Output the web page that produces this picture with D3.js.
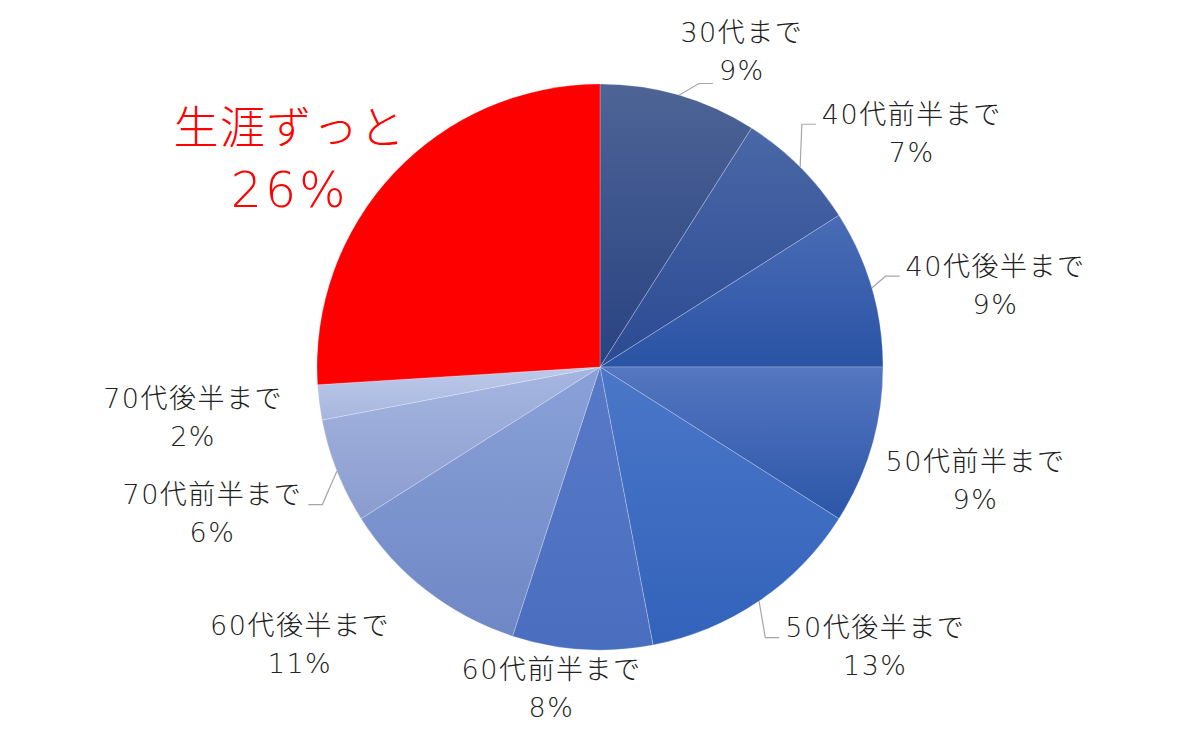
<!DOCTYPE html>
<html><head><meta charset="utf-8">
<script src="https://cdn.jsdelivr.net/npm/d3@7"></script>
<style>html,body{margin:0;padding:0;background:#fff;}</style>
</head><body>
<svg id="chart" width="1200" height="734"></svg>
<script>
// ---- data ----
const categories = ["30代まで","40代前半まで","40代後半まで","50代前半まで","50代後半まで","60代前半まで","60代後半まで","70代前半まで","70代後半まで","生涯ずっと"];
const values = [9,7,9,9,13,8,11,6,2,26];
const valueLabels = ["9%","7%","9%","9%","13%","8%","11%","6%","2%","26%"];

// ---- styles / layout ----
const sliceTop    = ["#4e6496","#4a67a6","#4a6cb5","#5576c0","#4b77c8","#5879c7","#8aa1d8","#a6b6e1","#bdc9ea","#ff0000"];
const sliceBottom = ["#284382","#2b4a93","#2a53a5","#2b56a8","#3262ba","#4a6ebf","#6f87c5","#8a9ccf","#a8b6de","#ff0000"];
const labelNudge = [[33,59],[36,42],[21,27],[1,5],[56,-43],[-24,-68],[-61,-31],[-25,3],[-20,2],[-26,59]];
const leaderSpec = [{i:0,line:1},{i:1,line:0},{i:2,line:0},{i:4,line:0},{i:7,line:0}];

const cx = 600, cy = 367, R = 283;
const svg = d3.select("#chart");
const defs = svg.append("defs");
sliceTop.forEach((c,i)=>{
  const g = defs.append("linearGradient").attr("id","g"+i).attr("x1",0).attr("y1",0).attr("x2",0).attr("y2",1);
  g.append("stop").attr("offset","0%").attr("stop-color",c);
  g.append("stop").attr("offset","100%").attr("stop-color",sliceBottom[i]);
});

const pie = d3.pie().sort(null).value(d=>d)(values);
const arc = d3.arc().innerRadius(0).outerRadius(R);
const edge = d3.arc().innerRadius(R).outerRadius(R);
const lab = d3.arc().innerRadius(390).outerRadius(390);

const root = svg.append("g").attr("transform",`translate(${cx},${cy})`);
root.selectAll("path.s").data(pie).join("path").attr("class","s")
  .attr("d",arc).attr("fill",(d,i)=>`url(#g${i})`)
  .attr("stroke","rgba(255,255,255,0.3)").attr("stroke-width",0.8);

const lineGap = 38;
const labels = [];
pie.forEach((d,i)=>{
  const c = lab.centroid(d);
  const x = c[0]+labelNudge[i][0], y = c[1]+labelNudge[i][1];
  const big = i===9;
  const g = root.append("g").attr("class","lbl");
  const gap = big?62:lineGap;
  const t1 = g.append("text").attr("x",x).attr("y",y-gap/2).text(categories[i])
    .attr("font-size",big?45:27).attr("letter-spacing","1.5px");
  const t2 = g.append("text").attr("x",x).attr("y",y+gap/2).text(valueLabels[i])
    .attr("font-size",big?49:27).attr("letter-spacing",big?"3px":"1.5px");
  [t1,t2].forEach(t=>t.attr("text-anchor","middle").attr("dominant-baseline","central")
    .attr("font-family","'DejaVu Sans','Noto Sans CJK JP',sans-serif")
    .attr("font-weight",200)
    .attr("fill",big?"#ff0000":"#222"));
  labels[i] = {x,y,t:[t1,t2],gap};
});

leaderSpec.forEach(s=>{
  const d = pie[s.i], L = labels[s.i];
  const p0 = edge.centroid(d);
  const t = L.t[s.line];
  const w = t.node().getComputedTextLength();
  const right = L.x > 0;
  const ly = (s.line===0 ? L.y - L.gap/2 + 10 : L.y + L.gap/2 + 13);
  const ex = right ? L.x - w/2 - 6 : L.x + w/2 + 6;
  const pts = [p0];
  if (Math.abs(p0[0]-ex) > 14) pts.push([ex + (right?-14:14), ly]);
  pts.push([ex, ly]);
  root.append("path").attr("d",d3.line()(pts)).attr("fill","none")
    .attr("stroke","#a6a6a6").attr("stroke-width",1.2);
});
</script>
</body></html>
